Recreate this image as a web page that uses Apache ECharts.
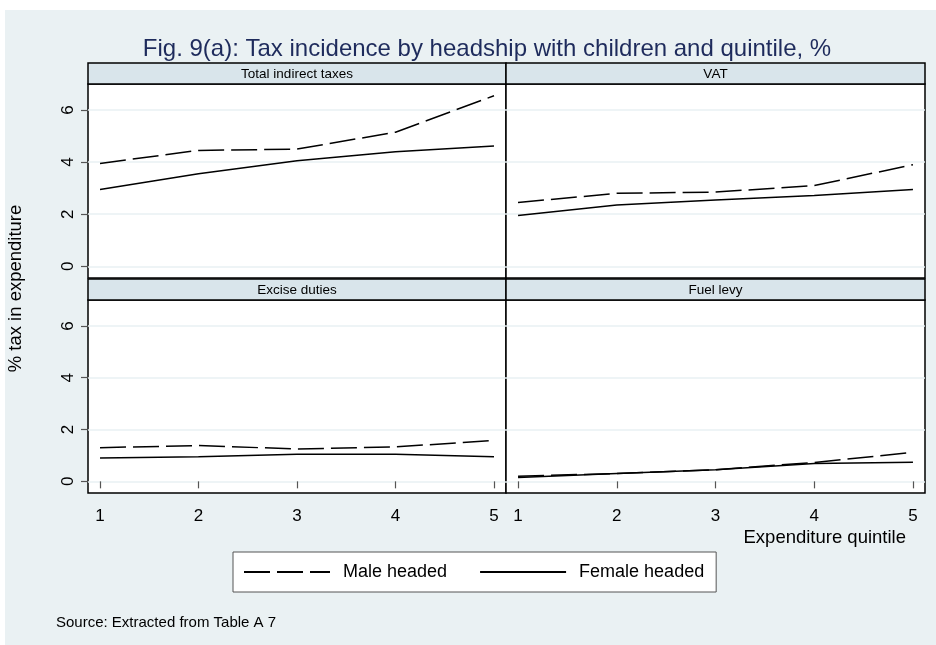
<!DOCTYPE html>
<html>
<head>
<meta charset="utf-8">
<script src="https://cdn.jsdelivr.net/npm/echarts@6/dist/echarts.min.js"></script>
<style>
html,body{margin:0;padding:0;background:#fff;}
#c{width:936px;height:645px;}
</style>
</head>
<body>
<div id="c"></div>
<script>
// ---- data ----
const quintiles = [1, 2, 3, 4, 5];
const panelTitles = ['Total indirect taxes', 'VAT', 'Excise duties', 'Fuel levy'];
const yTicks = [0, 2, 4, 6];
const xTicks = [1, 2, 3, 4, 5];
const seriesNames = ['Male headed', 'Female headed'];
const totalMale = [3.95, 4.45, 4.5, 5.15, 6.55];
const totalFemale = [2.95, 3.55, 4.05, 4.4, 4.62];
const vatMale = [2.45, 2.8, 2.85, 3.1, 3.9];
const vatFemale = [1.95, 2.35, 2.55, 2.72, 2.95];
const exciseMale = [1.3, 1.38, 1.25, 1.33, 1.58];
const exciseFemale = [0.9, 0.95, 1.05, 1.05, 0.95];
const fuelMale = [0.2, 0.3, 0.45, 0.73, 1.12];
const fuelFemale = [0.15, 0.3, 0.45, 0.69, 0.74];

const panelData = [
  [totalMale, totalFemale],
  [vatMale, vatFemale],
  [exciseMale, exciseFemale],
  [fuelMale, fuelFemale]
];

// ---- layout ----
const grids = [
  {left: 88, top: 84, width: 418, height: 194},
  {left: 506, top: 84, width: 419, height: 194},
  {left: 88, top: 300, width: 418, height: 193},
  {left: 506, top: 300, width: 419, height: 193}
];
const stripH = 21;
const sans = '"Liberation Sans", Arial, Helvetica, sans-serif';

const chart = echarts.init(document.getElementById('c'), null, {renderer: 'canvas'});

const gridOpts = grids.map(g => ({
  left: g.left, top: g.top, width: g.width, height: g.height,
  show: true, backgroundColor: '#fff', borderColor: '#000', borderWidth: 1.5,
  containLabel: false
}));

const xAxes = grids.map((g, i) => {
  const bottom = i >= 2;
  return {
    gridIndex: i, type: 'value', min: 0.878, max: 5.122,
    axisLine: {show: false},
    axisTick: {show: bottom, length: 7, customValues: xTicks, lineStyle: {color: '#555', width: 1.2}},
    axisLabel: {show: bottom, customValues: xTicks, fontSize: 17, color: '#000', margin: 15, fontFamily: sans},
    splitLine: {show: false}
  };
});

const yAxes = grids.map((g, i) => {
  const left = i % 2 === 0;
  return {
    gridIndex: i, type: 'value', min: -0.45, max: 7.0,
    axisLine: {show: false},
    axisTick: {show: left, length: 7, customValues: yTicks, lineStyle: {color: '#555', width: 1.2}},
    axisLabel: {show: left, customValues: yTicks, rotate: 90, fontSize: 17, color: '#000', margin: 11, fontFamily: sans},
    splitLine: {show: true, lineStyle: {color: '#e8f0f3', width: 1.5}}
  };
});

const series = [];
panelData.forEach((pair, i) => {
  pair.forEach((vals, k) => {
    series.push({
      name: seriesNames[k], type: 'line', xAxisIndex: i, yAxisIndex: i,
      data: quintiles.map((q, j) => [q, vals[j]]),
      symbol: 'none', silent: true, animation: false,
      itemStyle: {color: '#000'},
      lineStyle: {color: '#000', width: 1.5, type: k === 0 ? [26, 7] : 'solid'}
    });
  });
});

const graphics = [
  {type: 'rect', shape: {x: 5, y: 10, width: 931, height: 635}, style: {fill: '#eaf1f3'}, z: -10, silent: true},
  {type: 'text', x: 487, y: 49, style: {text: 'Fig. 9(a): Tax incidence by headship with children and quintile, %', font: '24px ' + sans, fill: '#1e2b5c', textAlign: 'center', textVerticalAlign: 'middle'}},
  {type: 'text', x: 16, y: 288.5, rotation: Math.PI / 2, style: {text: '% tax in expenditure', font: '18.5px ' + sans, fill: '#000', textAlign: 'center', textVerticalAlign: 'middle'}},
  {type: 'text', x: 906, y: 538, style: {text: 'Expenditure quintile', font: '18.5px ' + sans, fill: '#000', textAlign: 'right', textVerticalAlign: 'middle'}},
  {type: 'text', x: 56, y: 623, style: {text: 'Source: Extracted from Table A 7', font: '15px ' + sans, fill: '#000', textAlign: 'left', textVerticalAlign: 'middle'}}
];
grids.forEach((g, i) => {
  graphics.push({type: 'rect', shape: {x: g.left, y: g.top - stripH, width: g.width, height: stripH},
    style: {fill: '#d9e5eb', stroke: '#000', lineWidth: 1.5}, z: 5, silent: true});
  graphics.push({type: 'text', x: g.left + g.width / 2, y: g.top - stripH / 2 + 0.5,
    style: {text: panelTitles[i], font: '13.5px ' + sans, fill: '#000', textAlign: 'center', textVerticalAlign: 'middle'}, z: 6});
});

chart.setOption({
  animation: false,
  backgroundColor: 'transparent',
  grid: gridOpts,
  xAxis: xAxes,
  yAxis: yAxes,
  series: series,
  legend: {
    data: seriesNames, left: 233, top: 552, orient: 'horizontal',
    itemWidth: 86, itemHeight: 14, itemGap: 32,
    padding: [11, 12, 11, 10],
    backgroundColor: '#fff', borderColor: '#555', borderWidth: 1,
    selectedMode: false,
    itemStyle: {opacity: 0},
    textStyle: {fontSize: 18, color: '#000', fontFamily: sans, padding: [0, 0, 0, 8]}
  },
  graphic: graphics
});
</script>
</body>
</html>
